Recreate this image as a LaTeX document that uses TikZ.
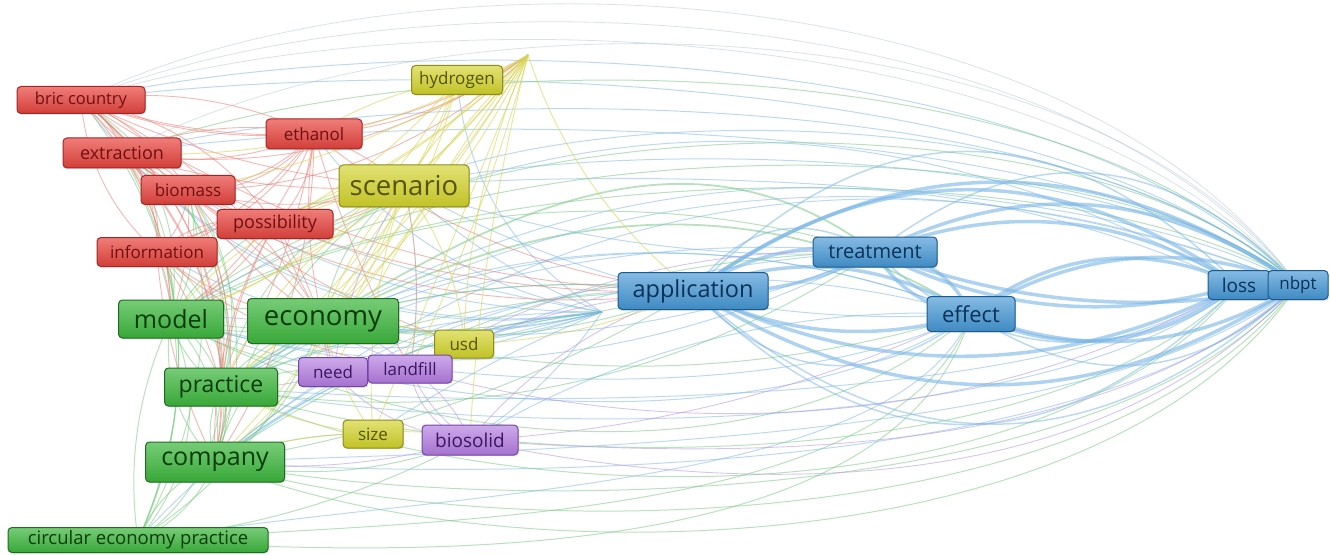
\documentclass[tikz,border=0pt]{standalone}
\usepackage{fontspec}
\setmainfont{Open Sans}
\usetikzlibrary{shadows,calc}
\pgfdeclarelayer{bg}
\pgfsetlayers{bg,main}
\definecolor{rF}{HTML}{E9453F}\definecolor{rD}{HTML}{A82424}\definecolor{rT}{HTML}{6E1010}\definecolor{rE}{HTML}{EC7E76}
\definecolor{yF}{HTML}{D2D22A}\definecolor{yD}{HTML}{8E8E10}\definecolor{yT}{HTML}{555500}\definecolor{yE}{HTML}{D8D450}
\definecolor{gF}{HTML}{3DB63D}\definecolor{gD}{HTML}{1C6E1C}\definecolor{gT}{HTML}{083C08}\definecolor{gE}{HTML}{7CCB84}
\definecolor{bF}{HTML}{4496D4}\definecolor{bD}{HTML}{1B5A8E}\definecolor{bT}{HTML}{0A3258}\definecolor{bE}{HTML}{79B6E6}
\definecolor{pF}{HTML}{B37BE0}\definecolor{pD}{HTML}{7344A6}\definecolor{pT}{HTML}{3A1760}\definecolor{pE}{HTML}{B994E6}
\definecolor{tE}{HTML}{9FB8C8}
\newcommand\fz[1]{\fontsize{#1}{#1}\selectfont}
\tikzset{
  kw/.style={rounded corners=4pt, inner sep=0pt, line width=1pt,
    drop shadow={opacity=0.25,shadow xshift=1pt,shadow yshift=-1.2pt}},
  kr/.style={kw, draw=rD, top color=rF!70!white, bottom color=rF!90!black, text=rT},
  ky/.style={kw, draw=yD, top color=yF!65!white, bottom color=yF!92!black, text=yT},
  kg/.style={kw, draw=gD, top color=gF!70!white, bottom color=gF!92!black, text=gT},
  kb/.style={kw, draw=bD, top color=bF!65!white, bottom color=bF!92!black, text=bT},
  kp/.style={kw, draw=pD, top color=pF!65!white, bottom color=pF!92!black, text=pT},
  eR/.style={draw=rE, line width=0.9pt, draw opacity=0.55},
  eY/.style={draw=yE, line width=0.9pt, draw opacity=0.6},
  eG/.style={draw=gE, line width=1pt, draw opacity=0.55},
  eB/.style={draw=bE, line width=1pt, draw opacity=0.5},
  eBt/.style={draw=bE, line width=3.5pt, draw opacity=0.6},
  eP/.style={draw=pE, line width=0.9pt, draw opacity=0.55},
  eT/.style={draw=tE, line width=0.8pt, draw opacity=0.4},
  bd/.style={to path={let \p1=(\tikztostart), \p2=(\tikztotarget) in
    .. controls ({\x1+(\x2-\x1)/3-#1/150*(\y2-\y1)},{\y1+(\y2-\y1)/3+#1/150*(\x2-\x1)})
    and ({\x1+2*(\x2-\x1)/3-#1/150*(\y2-\y1)},{\y1+2*(\y2-\y1)/3+#1/150*(\x2-\x1)}) .. (\tikztotarget)}},
}
\begin{document}
\begin{tikzpicture}[x=1pt,y=-1pt]
\useasboundingbox (0,0) rectangle (1330,556);
% nodes
\node[kr, minimum width=128pt, minimum height=27pt, font=\fz{16.5}] (bric) at (81,100) {bric country};
\node[kr, minimum width=118pt, minimum height=30pt, font=\fz{18}] (extr) at (122,153) {extraction};
\node[kr, minimum width=94pt, minimum height=29pt, font=\fz{17}] (biom) at (188,190) {biomass};
\node[kr, minimum width=96pt, minimum height=30pt, font=\fz{17}] (eth) at (314,134) {ethanol};
\node[kr, minimum width=116pt, minimum height=29pt, font=\fz{18}] (poss) at (275,224) {possibility};
\node[kr, minimum width=120pt, minimum height=29pt, font=\fz{17}] (info) at (157,252) {information};
\node[ky, minimum width=91pt, minimum height=29pt, font=\fz{17}] (hyd) at (457,80) {hydrogen};
\node[ky, minimum width=130pt, minimum height=42pt, font=\fz{27.5}] (scen) at (404,186) {scenario};
\node[kg, minimum width=105pt, minimum height=38pt, font=\fz{25}] (model) at (171,319) {model};
\node[kg, minimum width=151pt, minimum height=45pt, font=\fz{27.5}] (econ) at (323,321) {economy};
\node[kg, minimum width=113pt, minimum height=38pt, font=\fz{23}] (prac) at (221,387) {practice};
\node[kg, minimum width=139pt, minimum height=40pt, font=\fz{25}] (comp) at (215,462) {company};
\node[kg, minimum width=260pt, minimum height=25pt, font=\fz{18.5}] (circ) at (138,540) {circular economy practice};
\node[ky, minimum width=59pt, minimum height=28pt, font=\fz{17}] (usd) at (464,344) {usd};
\node[kp, minimum width=69pt, minimum height=29pt, font=\fz{17}] (need) at (333,372) {need};
\node[kp, minimum width=84pt, minimum height=28pt, font=\fz{17}] (land) at (410,369) {landfill};
\node[ky, minimum width=60pt, minimum height=28pt, font=\fz{17}] (size) at (373,434) {size};
\node[kp, minimum width=96pt, minimum height=30pt, font=\fz{19}] (bio) at (470,440) {biosolid};
\node[kb, minimum width=150pt, minimum height=37pt, font=\fz{23.5}] (app) at (693,291) {application};
\node[kb, minimum width=124pt, minimum height=30pt, font=\fz{20}] (treat) at (875,252) {treatment};
\node[kb, minimum width=88pt, minimum height=35pt, font=\fz{22}] (eff) at (971,314) {effect};
\node[kb, minimum width=62pt, minimum height=29pt, font=\fz{19}] (loss) at (1239,285) {loss};
\node[kb, minimum width=60pt, minimum height=29pt, font=\fz{17}] (nbpt) at (1298,285) {nbpt};
\coordinate (hub) at (528,55);
\coordinate (appL) at (602,312);
% edges
\begin{pgfonlayer}{bg}
\fill[white] (0,0) rectangle (1330,556);
% big top arcs
\foreach \c/\s in {-50/eT,-25/eT,0/eT,30/eB,60/eB}
  \draw[\s] (bric.center) .. controls (380,\c) and (1050,\c) .. (nbpt.center);
\foreach \c/\s in {-10/eT,40/eG,80/eB,110/eB}
  \draw[\s] (extr.center) .. controls (420,\c) and (1080,\c) .. (nbpt.center);
\foreach \c in {90,120,150}
  \draw[eG] (model.center) .. controls (450,\c) and (1100,\c) .. (nbpt.center);
\foreach \c in {100,140,170}
  \draw[eB] (scen.center) .. controls (600,\c) and (1100,\c) .. (nbpt.center);
\draw[eG,line width=1.8pt] (econ.center) .. controls (520,200) and (700,120) .. (treat.center);
\draw[eG,line width=1.8pt] (prac.center) .. controls (420,250) and (700,140) .. (eff.center);
% big bottom arcs
\foreach \c/\s in {575/eG,545/eG,515/eG,480/eB,450/eB}
  \draw[\s] (comp.center) .. controls (480,\c) and (1100,\c) .. (nbpt.center);
\foreach \c/\s in {560/eG,520/eG,490/eB}
  \draw[\s] (circ.center) .. controls (450,\c) and (900,\c) .. (eff.center);
\foreach \c/\s in {520/eG,480/eG,440/eB,410/eB}
  \draw[\s] (prac.center) .. controls (500,\c) and (1050,\c) .. (loss.center);
\foreach \c/\s in {470/eG,430/eB,400/eB}
  \draw[\s] (model.center) .. controls (450,\c) and (800,\c) .. (eff.center);
\foreach \c in {500,460}
  \draw[eP] (bio.center) .. controls (750,\c) and (1100,\c) .. (nbpt.center);
\draw[eP] (land.center) .. controls (700,450) and (1000,420) .. (loss.center);
% blue cluster (thick)
\foreach \a/\b/\c in {app/treat/20,app/treat/-15,app/eff/25,app/eff/-20,app/loss/36,app/loss/-25,app/nbpt/35,app/nbpt/-32,
  treat/eff/30,treat/eff/-25,treat/loss/25,treat/loss/-20,treat/nbpt/30,treat/nbpt/-15,eff/loss/30,eff/loss/-30,eff/nbpt/25,eff/nbpt/-25,loss/nbpt/40}
  \draw[eBt] (\a.center) to[bd=\c] (\b.center);
\foreach \a/\b/\c in {app/treat/45,app/eff/-45,app/loss/50,app/nbpt/-45,treat/nbpt/45,eff/nbpt/-40,treat/loss/-40,app/loss/-50}
  \draw[eB,line width=1.5pt] (\a.center) to[bd=\c] (\b.center);
% blue to left
\foreach \a/\b/\c in {appL/econ/10,appL/model/15,appL/prac/-10,appL/comp/-15,appL/scen/10,appL/circ/-20,appL/info/20,appL/biom/15,appL/poss/5,
  appL/eth/20,appL/land/-10,appL/bio/10,appL/need/5,appL/usd/0,appL/size/-5,appL/hyd/25,appL/extr/25,appL/bric/30,
  treat/econ/15,treat/model/20,treat/scen/10,eff/econ/-20,eff/prac/-25,eff/comp/-25,eff/scen/15,treat/prac/-15,loss/econ/-25,loss/model/-30,
  nbpt/comp/-30,nbpt/prac/-25,eff/bio/-15,treat/land/-10,app/econ/-10,app/comp/-20}
  \draw[eB] (\a.center) to[bd=\c] (\b.center);
% green cluster
\foreach \a/\b/\c in {model/econ/15,model/econ/-15,model/prac/20,model/prac/-20,model/comp/25,model/comp/-25,model/circ/30,model/circ/-15,
  econ/prac/15,econ/prac/-15,econ/comp/20,econ/comp/-20,econ/circ/15,prac/comp/20,prac/comp/-20,prac/circ/25,comp/circ/20,comp/circ/-20,
  econ/app/10,econ/app/-15,model/app/-10,prac/app/10,comp/app/-10,comp/treat/15,prac/treat/-20,econ/eff/-15,model/treat/20,
  econ/usd/10,comp/bio/-15,prac/land/10,model/need/-10,econ/scen/20,comp/size/10,circ/bio/-10,prac/scen/25,comp/scen/20,model/scen/25,
  model/bric/-30,model/extr/-20,comp/bric/-35,circ/extr/-25,circ/info/-20,comp/biom/-25,
  model/info/-25,prac/info/-30,prac/extr/-35,comp/info/-30,circ/biom/-20,circ/bric/-30,model/biom/-20,prac/biom/-25}
  \draw[eG] (\a.center) to[bd=\c] (\b.center);
% red cluster
\foreach \a/\b/\c in {bric/extr/20,bric/biom/15,bric/eth/-10,bric/poss/-15,bric/info/-20,bric/hub/-25,bric/scen/-10,
  extr/biom/20,extr/eth/-15,extr/poss/-10,extr/info/25,extr/scen/-10,extr/hub/-20,
  biom/eth/-20,biom/poss/15,biom/info/20,biom/scen/-15,eth/poss/20,eth/info/15,eth/scen/10,eth/hub/-15,poss/info/-15,poss/scen/10,
  bric/model/20,bric/econ/15,bric/prac/25,bric/comp/30,extr/model/15,extr/econ/10,extr/prac/20,extr/comp/25,
  biom/model/10,biom/econ/-10,biom/prac/15,biom/comp/20,eth/model/15,eth/econ/-10,eth/prac/10,eth/comp/15,
  poss/model/10,poss/econ/-5,poss/prac/-10,poss/comp/-15,info/model/10,info/econ/-15,info/prac/10,info/comp/-10,
  bric/app/-15,eth/app/-15,poss/app/-10,extr/app/-20,info/land/-15,poss/need/10,biom/usd/-10,eth/land/-5,
  bric/poss/20,extr/eth/15,info/eth/-20,biom/hub/-20,bric/eth/15,extr/biom/-20,info/poss/25,bric/info/25,eth/biom/25,poss/scen/-20}
  \draw[eR] (\a.center) to[bd=\c] (\b.center);
% yellow cluster
\foreach \a/\b/\c in {hub/scen/5,hub/scen/-10,hub/econ/10,hub/econ/-5,hub/model/15,hub/prac/10,hub/comp/5,hub/need/-5,hub/size/0,hub/usd/-10,
  hub/land/5,hub/poss/10,hub/info/15,hub/biom/10,hub/app/-15,hub/bio/-5,hub/hyd/10,hub/extr/15,
  hyd/scen/10,hyd/econ/15,hyd/model/20,hyd/prac/15,hyd/eth/-10,hyd/poss/10,
  scen/econ/10,scen/econ/-10,scen/comp/15,scen/prac/-15,scen/model/-20,scen/usd/15,scen/size/-10,scen/land/10,
  usd/econ/-10,usd/land/10,size/econ/10,size/comp/-10,size/prac/10,usd/app/-10,size/bio/10}
  \draw[eY] (\a.center) to[bd=\c] (\b.center);
% purple cluster
\foreach \a/\b/\c in {need/land/20,need/land/-20,land/bio/15,land/bio/-15,need/bio/-20,need/econ/10,land/econ/-15,land/model/-15,
  need/prac/10,bio/comp/10,land/app/10,bio/app/15,land/scen/-10,need/scen/10,land/treat/15,bio/eff/-10,bio/land/30}
  \draw[eP] (\a.center) to[bd=\c] (\b.center);
\end{pgfonlayer}
\end{tikzpicture}
\end{document}
